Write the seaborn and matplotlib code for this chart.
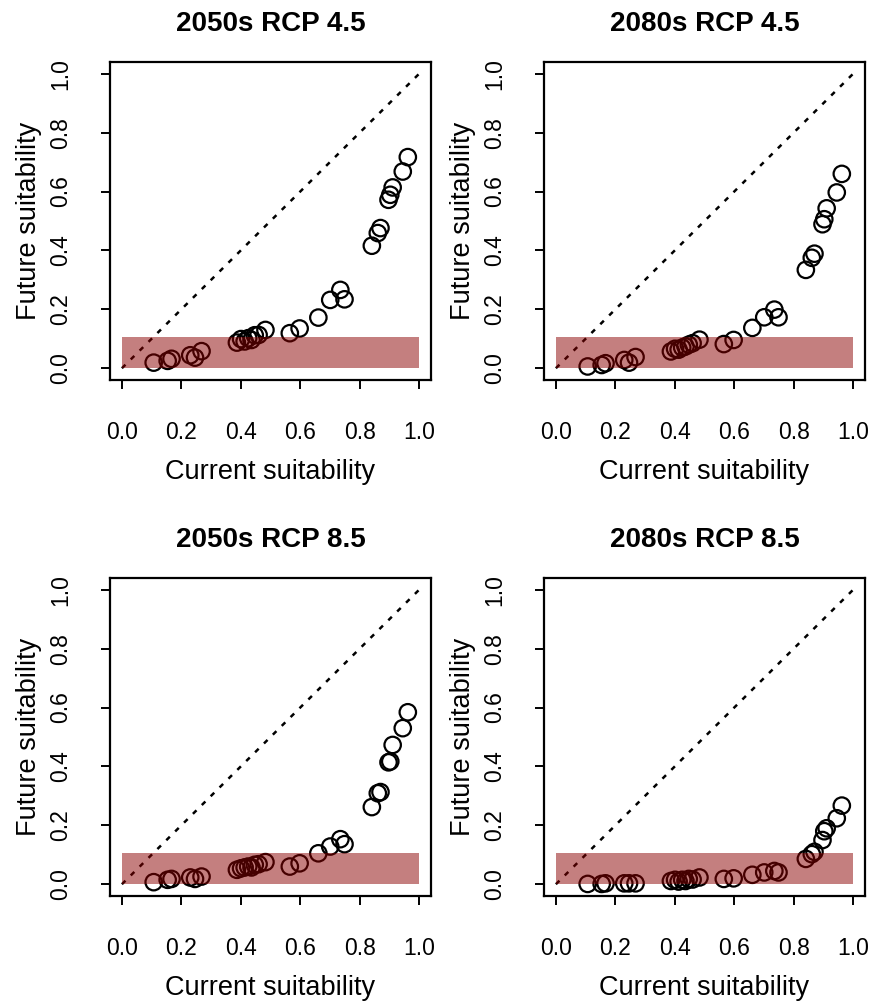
import seaborn as sns
import pandas as pd
import numpy as np
import matplotlib.pyplot as plt
from matplotlib.patches import Rectangle

# current suitability (same sites in every panel)
current = [0.107, 0.154, 0.167, 0.230, 0.246, 0.268, 0.387, 0.401, 0.413, 0.425,
           0.436, 0.447, 0.460, 0.483, 0.565, 0.598, 0.661, 0.701, 0.735, 0.749,
           0.841, 0.861, 0.870, 0.897, 0.903, 0.911, 0.945, 0.962]

fut_2050_45 = [0.019, 0.025, 0.032, 0.044, 0.036, 0.058, 0.087, 0.099, 0.091, 0.102,
               0.096, 0.112, 0.113, 0.130, 0.119, 0.135, 0.172, 0.232, 0.266, 0.234,
               0.416, 0.459, 0.476, 0.572, 0.589, 0.614, 0.668, 0.717]
fut_2080_45 = [0.006, 0.011, 0.017, 0.028, 0.019, 0.038, 0.057, 0.066, 0.063, 0.070,
               0.074, 0.080, 0.085, 0.097, 0.082, 0.096, 0.137, 0.173, 0.199, 0.173,
               0.334, 0.375, 0.389, 0.489, 0.506, 0.543, 0.597, 0.660]
fut_2050_85 = [0.007, 0.015, 0.018, 0.023, 0.018, 0.026, 0.049, 0.054, 0.057, 0.060,
               0.057, 0.066, 0.068, 0.075, 0.060, 0.071, 0.105, 0.128, 0.153, 0.136,
               0.262, 0.309, 0.313, 0.414, 0.417, 0.473, 0.530, 0.584]
fut_2080_85 = [0.001, 0.001, 0.003, 0.003, 0.003, 0.003, 0.011, 0.015, 0.009, 0.015,
               0.011, 0.018, 0.016, 0.023, 0.018, 0.020, 0.032, 0.040, 0.045, 0.040,
               0.086, 0.102, 0.110, 0.150, 0.180, 0.190, 0.224, 0.267]

titles = ['2050s RCP 4.5', '2080s RCP 4.5', '2050s RCP 8.5', '2080s RCP 8.5']
futures = [fut_2050_45, fut_2080_45, fut_2050_85, fut_2080_85]
ticks = [0.0, 0.2, 0.4, 0.6, 0.8, 1.0]
threshold = 0.105

sns.set_theme(style='white')
plt.rcParams['font.family'] = ['Liberation Sans', 'DejaVu Sans']
plt.rcParams['text.color'] = 'black'
plt.rcParams['axes.labelcolor'] = 'black'

W, H = 869, 1002
fig = plt.figure(figsize=(W / 100, H / 100), dpi=100)

# panel boxes in pixels: left, top
boxes = [(110, 62), (544, 62), (110, 578), (544, 578)]
bw, bh = 321, 318

for (left, top), title, fut in zip(boxes, titles, futures):
    ax = fig.add_axes([left / W, 1 - (top + bh) / H, bw / W, bh / H])
    df = pd.DataFrame({'current': current, 'future': fut})
    sns.scatterplot(data=df, x='current', y='future', ax=ax, s=140,
                    facecolors='none', edgecolor='black', linewidth=1.6, zorder=2)
    ax.plot([0, 1], [0, 1], color='black', linestyle=(0, (2.0, 3.0)), linewidth=1.8, zorder=1)
    ax.add_patch(Rectangle((0, 0), 1, threshold, facecolor='darkred', alpha=0.5,
                           edgecolor='none', zorder=3))
    ax.set_xlim(-0.04, 1.04)
    ax.set_ylim(-0.04, 1.04)
    ax.set_xticks(ticks)
    ax.set_yticks(ticks)
    ax.set_xticklabels([f'{t:.1f}' for t in ticks])
    ax.set_yticklabels([f'{t:.1f}' for t in ticks], rotation=90, va='center')
    ax.tick_params(axis='x', pad=23)
    ax.tick_params(axis='y', pad=21)
    ax.tick_params(axis='both', direction='out', length=6.5, width=1.4, labelsize=16.5,
                   colors='black', bottom=True, left=True)
    for sp in ax.spines.values():
        sp.set_visible(True)
        sp.set_color('black')
        sp.set_linewidth(1.6)
    ax.set_xlabel('Current suitability', fontsize=19.5, labelpad=11)
    ax.set_ylabel('Future suitability', fontsize=19.5, labelpad=5)
    ax.set_title(title, fontsize=20, fontweight='bold', pad=22)

plt.savefig('out.png', dpi=100, facecolor='w')
